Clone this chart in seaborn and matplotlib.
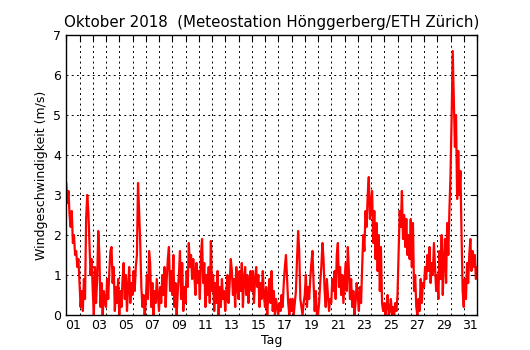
import numpy as np
import pandas as pd
import matplotlib
matplotlib.use("Agg")
import matplotlib.pyplot as plt
import matplotlib.dates as mdates
import seaborn as sns

# Windgeschwindigkeit (m/s), 2-Stunden-Werte
woche1 = [
    3.3, 2.8, 3.1, 2.5, 2.2, 2.6, 1.8, 2.0, 1.5, 1.6, 1.2, 1.4,   # 01
    0.8, 0.2, 0.6, 0.1, 0.9, 0.4, 2.4, 3.0, 2.6, 1.8, 1.0, 1.4,   # 02
    0.6, 0.0, 1.2, 0.3, 0.9, 2.1, 1.5, 0.2, 0.8, 0.0, 0.6, 0.3,   # 03
    0.2, 0.9, 0.4, 1.1, 1.6, 1.7, 0.8, 1.2, 0.1, 0.7, 0.3, 0.9,   # 04
    0.0, 0.6, 0.2, 0.9, 1.3, 0.4, 1.0, 0.1, 0.7, 1.2, 0.3, 0.8,   # 05
    0.5, 1.1, 0.6, 1.2, 1.5, 3.3, 2.6, 1.8, 0.7, 0.2, 0.5, 0.0,   # 06
    0.3, 1.0, 0.4, 1.6, 1.3, 0.2, 0.8, 0.0, 0.6, 0.3, 0.9, 0.5,   # 07
]
woche2 = [
    0.1, 0.7, 0.3, 1.0, 0.5, 1.2, 0.2, 0.9, 1.4, 1.7, 0.6, 1.1,   # 08
    0.5, 1.5, 0.2, 0.8, 0.0, 0.6, 1.0, 1.6, 0.4, 1.3, 0.1, 0.7,   # 09
    0.3, 1.1, 0.7, 1.8, 1.2, 1.5, 0.9, 1.4, 1.0, 0.5, 1.3, 0.8,   # 10
    1.1, 0.4, 1.5, 1.9, 0.8, 1.3, 0.2, 1.0, 0.5, 1.2, 0.3, 1.85,  # 11
    0.6, 1.0, 0.1, 0.8, 0.3, 1.1, 0.0, 0.7, 0.2, 0.9, 0.4, 0.6,   # 12
    0.1, 0.6, 1.0, 0.3, 0.8, 1.4, 1.1, 0.5, 0.9, 0.2, 1.2, 0.7,   # 13
    0.4, 1.1, 0.6, 1.3, 0.2, 0.9, 1.2, 0.5, 1.0, 0.3, 0.8, 1.1,   # 14
]
woche3 = [
    0.6, 1.1, 0.3, 0.9, 1.2, 0.7, 1.0, 0.2, 0.8, 0.4, 1.1, 0.5,   # 15
    0.2, 0.7, 0.0, 0.5, 0.9, 0.3, 1.1, 0.1, 0.6, 0.0, 0.4, 0.2,   # 16
    0.0, 0.3, 0.1, 0.5, 0.2, 0.8, 1.2, 1.5, 0.9, 0.3, 0.0, 0.4,   # 17
    0.1, 0.4, 0.0, 0.3, 0.6, 1.4, 2.1, 1.6, 0.4, 0.2, 0.0, 0.3,   # 18
    0.5, 1.0, 0.2, 0.7, 0.4, 0.9, 1.3, 1.6, 0.8, 0.1, 0.6, 0.0,   # 19
    0.0, 0.3, 0.8, 1.2, 1.8, 1.4, 0.6, 0.2, 0.9, 0.5, 0.1, 0.4,   # 20
    0.3, 0.9, 0.6, 1.1, 0.4, 1.5, 1.8, 0.7, 1.2, 0.5, 1.0, 0.3,   # 21
]
woche4 = [
    0.8, 1.3, 0.6, 1.7, 1.1, 0.4, 0.9, 0.2, 0.6, 0.0, 0.3, 0.8,   # 22
    0.5, 0.1, 0.7, 0.3, 1.2, 2.0, 1.6, 2.6, 2.2, 3.0, 3.45, 2.4,  # 23
    2.8, 3.1, 1.8, 2.6, 1.4, 2.3, 1.1, 2.0, 0.6, 1.7, 0.3, 0.1,   # 24
    0.3, 0.0, 0.2, 0.5, 0.0, 0.1, 0.4, 0.0, 0.2, 0.0, 0.3, 0.1,   # 25
    0.5, 1.6, 2.6, 2.2, 3.1, 1.9, 2.5, 1.7, 2.4, 1.5, 2.0, 1.4,   # 26
    2.4, 1.2, 2.3, 0.6, 1.0, 0.2, 0.0, 0.4, 0.1, 0.9, 0.3, 0.8,   # 27
    0.7, 1.2, 0.9, 1.5, 1.1, 1.7, 0.8, 1.3, 1.0, 1.8, 1.2, 0.6,   # 28
]
rest = [
    1.0, 0.4, 1.6, 0.9, 2.0, 0.5, 1.4, 1.9, 0.8, 2.3, 1.5, 2.6,   # 29
    3.5, 4.9, 6.6, 5.4, 4.2, 5.0, 2.9, 4.1, 3.0, 3.6, 2.0, 0.6,   # 30
    0.2, 0.9, 0.4, 1.3, 0.8, 1.5, 1.9, 1.1, 1.6, 1.2, 1.5, 0.9,   # 31
    1.2,
]

wind = woche1 + woche2 + woche3 + woche4 + rest
zeit = pd.date_range("2018-10-01 00:00", periods=len(wind), freq="2h")
df = pd.DataFrame({"zeit": zeit, "wind": wind})

sns.set_style("white")
plt.rcParams["font.family"] = ["DejaVu Sans"]
plt.rcParams["text.color"] = "black"
plt.rcParams["axes.labelcolor"] = "black"

fig, ax = plt.subplots(figsize=(5.3, 3.5), dpi=100)
fig.subplots_adjust(left=0.125, right=0.9, bottom=0.1, top=0.9)

sns.lineplot(data=df, x="zeit", y="wind", color="red", linewidth=1.6, ax=ax)

ax.set_xlim(pd.Timestamp("2018-10-01"), pd.Timestamp("2018-11-01"))
ax.set_ylim(0, 7)
ax.set_yticks(range(0, 8))

# Hauptticks jeden Tag um 0 Uhr (Gitter), Beschriftung mittags an ungeraden Tagen
ax.xaxis.set_major_locator(mdates.DayLocator())
ax.xaxis.set_major_formatter(plt.NullFormatter())
ax.xaxis.set_minor_locator(mdates.HourLocator(byhour=12))
ax.xaxis.set_minor_formatter(
    plt.FuncFormatter(lambda v, p: mdates.num2date(v).strftime("%d")
                      if mdates.num2date(v).day % 2 == 1 else ""))

ax.grid(True, which="major", linestyle=(0, (2, 3.4)), color="black", linewidth=0.7)
ax.tick_params(which="major", direction="in", top=True, right=True,
               length=4, width=0.8, labelsize=9, colors="black")
ax.tick_params(which="minor", length=0, labelsize=9, pad=3, colors="black")
for s in ax.spines.values():
    s.set_color("black")
    s.set_linewidth(1)

ax.set_title("Oktober 2018  (Meteostation Hönggerberg/ETH Zürich)", fontsize=10.8)
ax.set_xlabel("Tag", fontsize=9, labelpad=1)
ax.set_ylabel("Windgeschwindigkeit (m/s)", fontsize=9)

fig.savefig("out.png", dpi=100, facecolor="white")
